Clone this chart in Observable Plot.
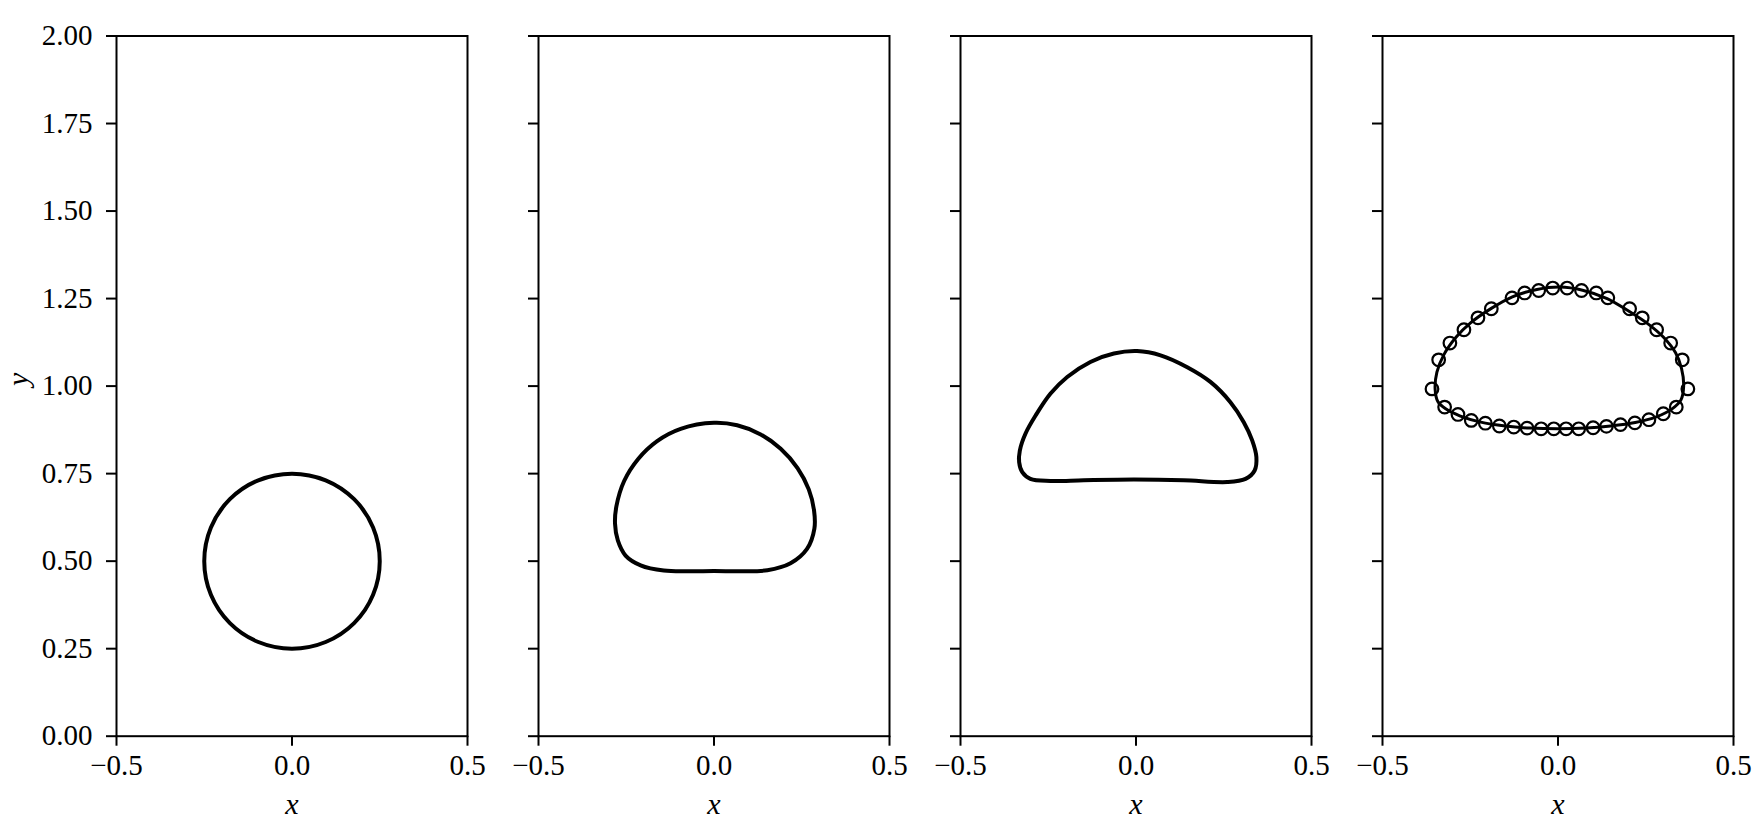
<!DOCTYPE html>
<html>
<head>
<meta charset="utf-8">
<script src="https://cdn.jsdelivr.net/npm/d3@7"></script>
<script src="https://cdn.jsdelivr.net/npm/@observablehq/plot@0.6"></script>
<style>
  html, body { margin: 0; padding: 0; background: white; }
  #row { display: flex; flex-direction: row; width: 1752px; height: 830px; }
  #row svg { flex: none; display: block; }
</style>
</head>
<body>
<div id="row"></div>
<script>
// Tick values / labels
const xTicks = [-0.5, 0, 0.5];
const yTicks = [0, 0.25, 0.5, 0.75, 1.0, 1.25, 1.5, 1.75, 2.0];
const xLabel = "x";
const yLabel = "y";

// Panel 1: initial circular bubble
const bubble1 = [
  [0.000, 0.750], [0.096, 0.731], [0.177, 0.677], [0.231, 0.596],
  [0.250, 0.500], [0.231, 0.404], [0.177, 0.323], [0.096, 0.269],
  [0.000, 0.250], [-0.096, 0.269], [-0.177, 0.323], [-0.231, 0.404],
  [-0.250, 0.500], [-0.231, 0.596], [-0.177, 0.677], [-0.096, 0.731]
];

// Panel 2
const bubble2 = [
  [0.000, 0.895], [-0.095, 0.878], [-0.162, 0.843], [-0.216, 0.792],
  [-0.256, 0.729], [-0.278, 0.657], [-0.282, 0.607], [-0.274, 0.559],
  [-0.252, 0.516], [-0.209, 0.488], [-0.143, 0.473], [-0.067, 0.471],
  [0.000, 0.472], [0.076, 0.471], [0.152, 0.474], [0.218, 0.494],
  [0.265, 0.535], [0.286, 0.593], [0.285, 0.645], [0.270, 0.705],
  [0.238, 0.766], [0.190, 0.821], [0.133, 0.862], [0.066, 0.888]
];

// Panel 3
const bubble3 = [
  [0.003, 1.100], [-0.063, 1.093], [-0.130, 1.069], [-0.196, 1.026],
  [-0.244, 0.978], [-0.286, 0.916], [-0.315, 0.864], [-0.331, 0.816],
  [-0.333, 0.783], [-0.324, 0.754], [-0.301, 0.735], [-0.244, 0.729],
  [-0.149, 0.731], [-0.006, 0.733], [0.136, 0.731], [0.260, 0.726],
  [0.312, 0.735], [0.338, 0.759], [0.343, 0.797], [0.331, 0.845],
  [0.307, 0.897], [0.269, 0.954], [0.212, 1.012], [0.146, 1.054],
  [0.070, 1.088]
];

// Panel 4: computed contour (line)
const bubble4 = [
  [0.358, 1.000], [0.352, 1.050], [0.335, 1.095], [0.300, 1.140],
  [0.260, 1.175], [0.200, 1.215], [0.140, 1.250], [0.070, 1.274],
  [0.005, 1.283], [-0.060, 1.276], [-0.130, 1.255], [-0.190, 1.222],
  [-0.250, 1.180], [-0.290, 1.140], [-0.325, 1.090], [-0.345, 1.040],
  [-0.350, 0.990], [-0.342, 0.955], [-0.320, 0.935], [-0.280, 0.915],
  [-0.220, 0.897], [-0.150, 0.886], [-0.080, 0.880], [0.000, 0.878],
  [0.080, 0.880], [0.150, 0.886], [0.220, 0.896], [0.280, 0.912],
  [0.325, 0.935], [0.350, 0.960]
];

// Panel 4: reference points (open circles)
const refTop = [
  [-0.359, 0.992], [-0.340, 1.075], [-0.308, 1.123], [-0.268, 1.161],
  [-0.228, 1.195], [-0.190, 1.221], [-0.131, 1.252], [-0.095, 1.266],
  [-0.055, 1.273], [-0.015, 1.280], [0.026, 1.280], [0.067, 1.273],
  [0.109, 1.266], [0.142, 1.252], [0.204, 1.221], [0.240, 1.195],
  [0.281, 1.161], [0.321, 1.123], [0.354, 1.075], [0.370, 0.992]
];
const refBottom = [
  [-0.323, 0.940], [-0.285, 0.919], [-0.247, 0.902], [-0.207, 0.894],
  [-0.167, 0.886], [-0.126, 0.883], [-0.088, 0.880], [-0.048, 0.878],
  [-0.012, 0.878], [0.023, 0.878], [0.059, 0.878], [0.100, 0.881],
  [0.138, 0.885], [0.178, 0.890], [0.219, 0.895], [0.259, 0.904],
  [0.300, 0.921], [0.337, 0.940]
];

const panels = [
  {shape: bubble1, dots: null, w: 502, ml: 116, mr: 35, first: true, sw: 4},
  {shape: bubble2, dots: null, w: 422, ml: 36, mr: 35, first: false, sw: 4},
  {shape: bubble3, dots: null, w: 422, ml: 36, mr: 35, first: false, sw: 4},
  {shape: bubble4, dots: refTop.concat(refBottom), w: 406, ml: 36, mr: 19, first: false, sw: 3}
];

const row = document.getElementById("row");
for (const p of panels) {
  const marks = [
    Plot.frame({stroke: "black", strokeWidth: 2}),
    Plot.axisX({ticks: xTicks, tickFormat: d3.format(".1f"), tickSize: 10, tickPadding: 8, label: null, strokeWidth: 2}),
    Plot.axisY({ticks: yTicks, tickFormat: p.first ? d3.format(".2f") : () => "", tickSize: 10, tickPadding: 14, label: null, strokeWidth: 2}),
    Plot.line(p.shape, {x: d => d[0], y: d => d[1], curve: "catmull-rom-closed", stroke: "black", strokeWidth: p.sw}),
    Plot.text([xLabel], {text: d => d, frameAnchor: "bottom", dy: 78, fontStyle: "italic", fontSize: 30})
  ];
  if (p.dots) {
    marks.push(Plot.dot(p.dots, {x: d => d[0], y: d => d[1], r: 6.3, stroke: "black", strokeWidth: 2.2, fill: "none"}));
  }
  if (p.first) {
    marks.push(Plot.text([yLabel], {text: d => d, frameAnchor: "left", dx: -98, rotate: -90, fontStyle: "italic", fontSize: 30}));
  }
  const svg = Plot.plot({
    width: p.w,
    height: 830,
    marginTop: 35.5,
    marginBottom: 94.3,
    marginLeft: p.ml,
    marginRight: p.mr,
    x: {domain: [-0.5, 0.5]},
    y: {domain: [0, 2]},
    style: {fontFamily: "'Liberation Serif', serif", fontSize: "29px", color: "black", background: "transparent", overflow: "visible"},
    marks
  });
  row.appendChild(svg);
}
</script>
</body>
</html>
